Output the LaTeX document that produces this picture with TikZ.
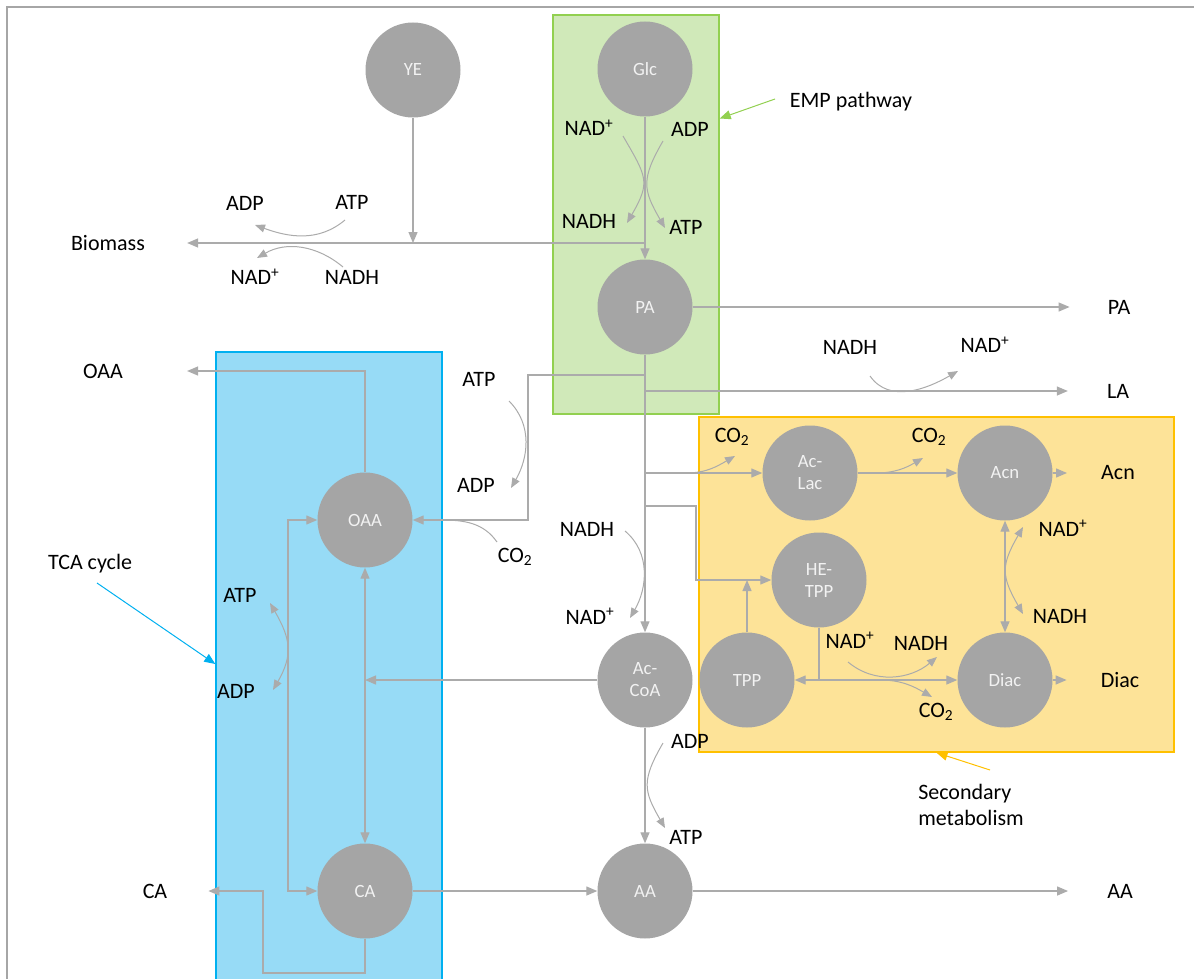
\documentclass[tikz,border=0pt]{standalone}
\usepackage{fontspec}
\setmainfont{Carlito}
\usepackage{xcolor}
\usepackage{tikz}
\usetikzlibrary{arrows.meta,positioning,calc}
\definecolor{Disc}{HTML}{A5A5A5}
\definecolor{DiscText}{HTML}{F2F2F2}
\definecolor{Wire}{HTML}{ABABAB}
\definecolor{Frame}{HTML}{A6A6A6}
\definecolor{EmpFill}{HTML}{D0E9B9}
\definecolor{EmpLine}{HTML}{92D050}
\definecolor{TcaFill}{HTML}{97DBF6}
\definecolor{TcaLine}{HTML}{00B0F0}
\definecolor{SecFill}{HTML}{FDE398}
\definecolor{SecLine}{HTML}{FFC000}

\begin{document}
\begin{tikzpicture}[x=1pt,y=-1pt,
  every node/.style={font=\fontsize{22}{26}\selectfont,inner sep=0pt,align=center},
  met/.style={circle,fill=Disc,minimum size=95pt,text=DiscText,font=\fontsize{18.7}{22}\selectfont},
  zone/.style={rectangle,line width=1.4pt},
  arr/.style={-{Triangle[length=11pt,width=9pt]},line width=1.3pt,Wire},
  arrb/.style={{Triangle[length=11pt,width=9pt]}-{Triangle[length=11pt,width=9pt]},line width=1.3pt,Wire},
  seg/.style={line width=1.3pt,Wire},
  cof/.style={-{Triangle[length=10pt,width=8pt]},line width=1pt,Wire},
  cofb/.style={{Triangle[length=10pt,width=8pt]}-{Triangle[length=10pt,width=8pt]},line width=1pt,Wire},
  cofl/.style={line width=1pt,Wire},
  note/.style={-{Triangle[length=11pt,width=9pt]},line width=1pt}
]
\useasboundingbox (0,0) rectangle (1194,979);
\draw[Frame,line width=1.2pt] (7,979) -- (7,7) -- (1194,7);

% pathway zones
\node[zone,draw=EmpLine,fill=EmpFill,minimum width=166pt,minimum height=399pt] (empbox) at (636,214.5) {};
\node[zone,draw=TcaLine,fill=TcaFill,minimum width=226pt,minimum height=640pt] (tcabox) at (329,672) {};
\node[zone,draw=SecLine,fill=SecFill,minimum width=475pt,minimum height=335pt] (secbox) at (936.5,584.5) {};

% metabolites
\node[met] (YE) at (413,70) {YE};
\node[met] (Glc) at (645,69) {Glc};
\node[met] (PA) at (645,307) {PA};
\node[met] (OAA) at (365,520) {OAA};
\node[met] (CA) at (365,891) {CA};
\node[met] (AcCoA) at (645,680) {Ac-\\CoA};
\node[met] (AA) at (645,891) {AA};
\node[met] (AcLac) at (810,473) {Ac-\\Lac};
\node[met] (Acn) at (1005,473) {Acn};
\node[met] (HETPP) at (819,580) {HE-\\TPP};
\node[met] (TPP) at (747,680) {TPP};
\node[met] (Diac) at (1005,680) {Diac};

% outputs
\node (outBio) at (108,243) {Biomass};
\node (outPA) at (1119,307) {PA};
\node (outLA) at (1118,391) {LA};
\node (outAcn) at (1118,473) {Acn};
\node (outDiac) at (1120,680) {Diac};
\node (outOAA) at (103,371) {OAA};
\node (outCA) at (155,891) {CA};
\node (outAA) at (1120,891) {AA};

\coordinate (jBio) at (645,243);
\coordinate (jOAA) at (645,375);
\coordinate (kOAA) at (528,375);
\coordinate (jLA) at (645,391);
\coordinate (jLac) at (645,473);
\coordinate (jHE) at (645,506);
\coordinate (kHE) at (696,506);
\coordinate (kTD) at (819,680);
\coordinate (kCyc) at (288,520);
\coordinate (kCA) at (263,973);

\draw[arr] (Glc) -- (PA);
\draw[arr] (YE) -- (YE |- jBio);
\draw[arr,shorten >=42pt] (jBio) -- (outBio);
\draw[arr,shorten >=38pt] (PA) -- (outPA);
\draw[arr,shorten >=39pt] (jLA) -- (outLA);
\draw[arr] (jOAA) -- (kOAA) |- (OAA);
\draw[arr] (PA) -- (AcCoA);
\draw[arr] (jLac) -- (AcLac);
\draw[arr] (jHE) -- (kHE) |- (HETPP);
\draw[arr] (TPP) -- (TPP |- HETPP);
\draw[seg] (HETPP) -- (kTD);
\draw[arr] (kTD) -- (TPP);
\draw[arr] (kTD) -- (Diac);
\draw[arr] (AcLac) -- (Acn);
\draw[arr,shorten >=34pt] (Acn) -- (outAcn);
\draw[arr,shorten >=34pt] (Diac) -- (outDiac);
\draw[arrb] (Acn) -- (Diac);
\draw[arr] (AcCoA) -- (AcCoA -| OAA);
\draw[arrb] (OAA) -- (CA);
\draw[arr,shorten >=64pt] (OAA) |- (outOAA);
\draw[arrb] (CA) -| (kCyc) -- (OAA);
\draw[arr,shorten >=41pt] (CA) |- (kCA) |- (outCA);
\draw[arr] (CA) -- (AA);
\draw[arr] (AcCoA) -- (AA);
\draw[arr,shorten >=39pt] (AA) -- (outAA);

% cofactors
\node (bADP) at (245,203) {ADP};
\node (bATP) at (352,202) {ATP};
\node (bNAD) at (255,277) {NAD\textsuperscript{+}};
\node (bNADH) at (352,277) {NADH};
\node (eNAD) at (589,128) {NAD\textsuperscript{+}};
\node (eNADH) at (589,221) {NADH};
\node (eADP) at (690,129) {ADP};
\node (eATP) at (686,227) {ATP};
\node (lNADH) at (850,347) {NADH};
\node (lNAD) at (985,345) {NAD\textsuperscript{+}};
\node (oATP) at (479,379) {ATP};
\node (oADP) at (476,485) {ADP};
\node (oCO2) at (515,557) {CO\textsubscript{2}};
\node (aNADH) at (587,529) {NADH};
\node (aNAD) at (590,616) {NAD\textsuperscript{+}};
\node (lCO2) at (732,437) {CO\textsubscript{2}};
\node (nCO2) at (929,437) {CO\textsubscript{2}};
\node (hNAD) at (850,640) {NAD\textsuperscript{+}};
\node (hNADH) at (921,643) {NADH};
\node (hCO2) at (936,712) {CO\textsubscript{2}};
\node (dNAD) at (1063,528) {NAD\textsuperscript{+}};
\node (dNADH) at (1060,616) {NADH};
\node (tATP) at (240,595) {ATP};
\node (tADP) at (236,691) {ADP};
\node (cADP) at (690,741) {ADP};
\node (cATP) at (686,837) {ATP};

\draw[cof] ([shift={(-7,18)}]bATP.center) to[out=-140,in=-20] ([shift={(10,22)}]bADP.center);
\draw[cof] ([shift={(-9,-10)}]bNADH.center) to[out=140,in=30] ([shift={(2,-19)}]bNAD.center);
\draw[cof] ([shift={(34,8)}]eNAD.center) to[out=-60,in=60,looseness=1.4] ([shift={(38,2)}]eNADH.center);
\draw[cof] ([shift={(-27,12)}]eADP.center) to[out=-120,in=120,looseness=1.3] ([shift={(-21,1)}]eATP.center);
\draw[cof] ([shift={(20,29)}]lNADH.center) to[out=-55,in=-150] ([shift={(-27,26)}]lNAD.center);
\draw[cof] ([shift={(30,22)}]oATP.center) to[out=-45,in=60] ([shift={(35,3)}]oADP.center);
\draw[cofl] ([shift={(-18,-15)}]oCO2.center) to[out=125,in=0] ([xshift=28pt]OAA.east);
\draw[cof] ([shift={(38,2)}]aNADH.center) to[out=-40,in=60] ([shift={(40,2)}]aNAD.center);
\draw[cof] ([xshift=-76pt]AcLac.west) to[out=0,in=-150] ([shift={(3,19)}]lCO2.center);
\draw[cof] ([xshift=18pt]AcLac.east) to[out=0,in=-150] ([shift={(-6,21)}]nCO2.center);
\draw[cof] ([shift={(-2,22)}]hNAD.center) to[out=-40,in=-140] ([shift={(16,14)}]hNADH.center);
\draw[cof] ([xshift=61pt]kTD) to[out=0,in=150] ([shift={(-4,-15)}]hCO2.center);
\draw[cofb] ([shift={(-40,-1)}]dNAD.center) to[out=-120,in=120,looseness=1.3] ([shift={(-37,-2)}]dNADH.center);
\draw[cofb] ([shift={(30,8)}]tATP.center) to[out=-60,in=60,looseness=1.2] ([shift={(37,-1)}]tADP.center);
\draw[cof] ([shift={(-27,2)}]cADP.center) to[out=-120,in=120,looseness=1.3] ([shift={(-21,-9)}]cATP.center);

% zone captions
\node (emp) at (851,102) {EMP pathway};
\node (tca) at (90,564) {TCA cycle};
\node[align=left] (sec) at (971,805) {Secondary\\metabolism};
\draw[note,EmpLine] ([shift={(-76,-3)}]emp.center) -- ([yshift=96pt]empbox.east);
\draw[note,TcaLine] ([shift={(7,19)}]tca.center) -- ([yshift=8pt]tcabox.west);
\draw[note,SecLine] ([shift={(19,-35)}]sec.center) -- (secbox.south);
\end{tikzpicture}
\end{document}
